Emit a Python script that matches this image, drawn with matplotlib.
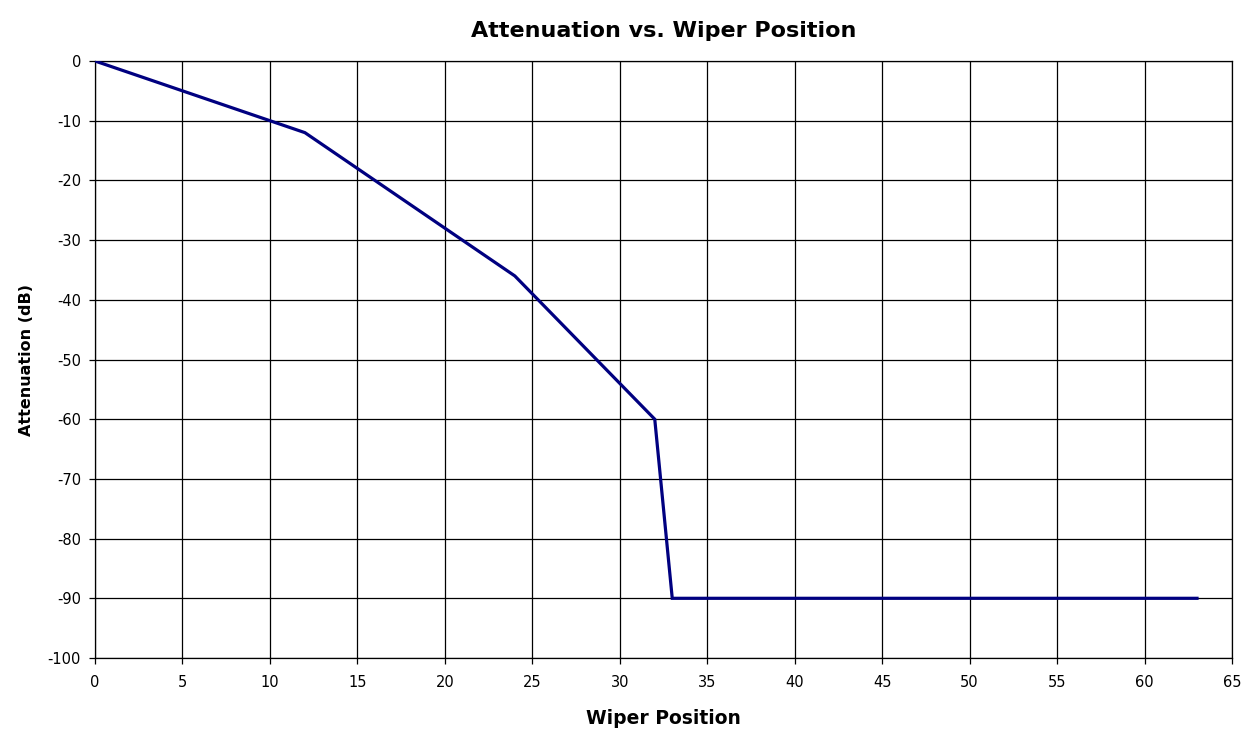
import matplotlib
matplotlib.use('Agg')
import matplotlib.pyplot as plt

# breakpoints
wiper_position = [0, 12, 24, 32, 33, 63]
attenuation_db = [0, -12, -36, -60, -90, -90]

x_ticks = list(range(0, 66, 5))
y_ticks = list(range(-100, 1, 10))

plt.rcParams['font.family'] = ['DejaVu Sans']
plt.rcParams['axes.unicode_minus'] = False

fig = plt.figure(figsize=(12.43, 7.30), dpi=100)
ax = fig.add_axes([95 / 1243, 1 - 658 / 730, (1232 - 95) / 1243, (658 - 61) / 730])

ax.plot(wiper_position, attenuation_db, color='#000080', lw=2.3, solid_joinstyle='miter', zorder=3)

ax.set_xlim(0, 65)
ax.set_ylim(-100, 0)
ax.set_xticks(x_ticks)
ax.set_yticks(y_ticks)
ax.grid(True, color='black', lw=0.9)
ax.tick_params(direction='out', length=4, width=0.9, labelsize=10.5, pad=6, colors='black')
ax.tick_params(axis='x', pad=8)
for s in ax.spines.values():
    s.set_linewidth(0.9)

ax.set_title('Attenuation vs. Wiper Position', fontsize=16, fontweight='bold', pad=17)
ax.set_xlabel('Wiper Position', fontsize=13.5, fontweight='bold', labelpad=14)
ax.set_ylabel('Attenuation (dB)', fontsize=11.5, fontweight='bold', labelpad=10)

fig.savefig('out.png', dpi=100)
